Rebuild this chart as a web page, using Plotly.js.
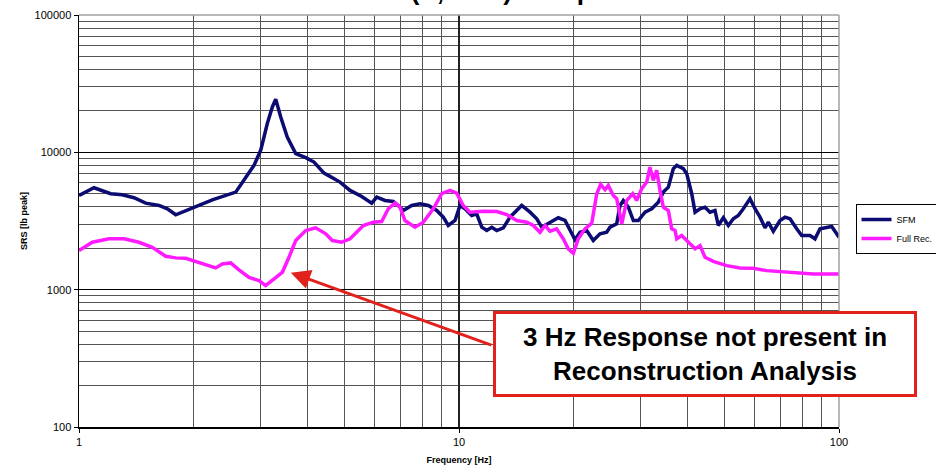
<!DOCTYPE html>
<html>
<head>
<meta charset="utf-8">
<script src="https://cdn.plot.ly/plotly-3.0.1.min.js"></script>
<style>
  html, body { margin: 0; padding: 0; background: #fff; }
  #chart { width: 936px; height: 466px; }
</style>
</head>
<body>
<div id="chart"></div>
<script>
// Shock response spectra, SFM vs full reconstruction
const sfmFreq = [1, 1.095, 1.212, 1.300, 1.395, 1.498, 1.624, 1.708, 1.797, 1.987, 2.243, 2.585, 2.746, 2.888, 3.007, 3.130, 3.227, 3.294, 3.395, 3.532, 3.718, 3.951, 4.153, 4.413,
  4.576, 4.862, 5.168, 5.546, 5.892, 6.074, 6.387, 6.716, 6.923, 7.135, 7.508, 7.897, 8.303, 8.737, 9.093, 9.371, 9.761, 10.06, 10.37, 10.80,
  11.13, 11.48, 11.83, 12.20, 12.57, 13.08, 13.62, 14.62, 15.38, 16.02, 16.51, 17.36, 18.25, 19.01, 19.60, 20.20, 20.82, 21.68, 22.56, 23.50,
  24.47, 24.97, 26.00, 26.53, 27.06, 27.90, 28.76, 29.64, 30.87, 32.15, 33.46, 34.49, 35.55, 36.64, 37.41, 38.94, 39.74, 40.97, 41.80, 43.08,
  44.40, 45.76, 47.17, 48.13, 49.61, 51.14, 52.71, 54.33, 56.00, 58.32, 60.11, 61.96, 63.88, 65.15, 67.16, 69.94, 72.10, 74.31, 77.39, 79.76,
  83.90, 86.47, 89.13, 92.82, 95.68, 100];
const sfmVal = [4853, 5524, 4995, 4911, 4670, 4265, 4104, 3882, 3510, 3949, 4514, 5130, 6600, 8038, 10342, 16200, 21410, 24370, 18100, 12930, 9784, 9146, 8497, 7062,
  6680, 6072, 5280, 4773, 4266, 4718, 4462, 4388, 4104, 3773, 4104, 4222, 4104, 3773, 3372, 2933, 3189, 4104, 3882, 3469,
  3570, 2849, 2696, 2849, 2696, 2821, 3372, 4104, 3666, 3282, 2849, 3099, 3338, 3189, 2696, 2306, 2620, 2696, 2279, 2551,
  2620, 2849, 3018, 4104, 4462, 3988, 3189, 3189, 3666, 3882, 4337, 5131, 5581, 7603, 8038, 7603, 6990, 4995, 3666, 3882,
  3988, 3666, 3773, 2933, 3338, 2933, 3282, 3469, 3882, 4592, 3882, 3372, 2821, 3099, 2664, 3189, 3372, 3282, 2774, 2479,
  2479, 2345, 2774, 2821, 2884, 2409];

const recFreq = [1, 1.084, 1.199, 1.313, 1.438, 1.559, 1.691, 1.797, 1.909, 2.111, 2.289, 2.383, 2.507, 2.636, 2.802, 2.976, 3.099, 3.261, 3.428, 3.569,
  3.718, 3.951, 4.197, 4.459, 4.641, 4.913, 5.168, 5.601, 5.949, 6.259, 6.515, 6.785, 6.993, 7.208, 7.659, 8.055, 8.557, 9.005, 9.470, 9.861,
  10.26, 10.69, 11.59, 12.57, 13.35, 14.19, 15.08, 15.69, 16.34, 16.84, 17.36, 18.07, 18.81, 19.39, 19.99, 20.60, 21.46, 22.35, 23.04, 23.60,
  24.23, 24.71, 25.47, 26.00, 26.53, 26.81, 27.63, 28.65, 29.35, 30.25, 31.19, 31.81, 32.45, 33.13, 33.80, 34.49, 35.55, 36.29, 37.03, 37.41,
  38.56, 39.74, 41.80, 43.08, 44.40, 46.69, 50.63, 54.89, 59.50, 64.52, 69.94, 77.39, 85.57, 100];
const recVal = [1926, 2215, 2345, 2345, 2215, 2036, 1751, 1704, 1692, 1556, 1440, 1540, 1566, 1392, 1229, 1163, 1070, 1197, 1338, 1721,
  2279, 2696, 2821, 2551, 2279, 2215, 2345, 2933, 3099, 3137, 3882, 4266, 3988, 3189, 2849, 3099, 3882, 4995, 5280, 5045,
  4104, 3666, 3729, 3710, 3527, 3189, 3099, 2933, 2620, 2933, 2664, 2774, 2345, 1982, 1841, 2345, 2774, 3048, 4995, 5841,
  5342, 5743, 4854, 4592, 3570, 3018, 4462, 4995, 4462, 5433, 6072, 7811, 6246, 7389, 5280, 3988, 3773, 2774, 2696, 2345,
  2479, 2279, 1982, 2095, 1721, 1609, 1497, 1440, 1431, 1376, 1353, 1324, 1302, 1302];

const seriesNames = ['SFM', 'Full Rec.'];
const xTickVals = [1, 10, 100];
const xTickText = ['1', '10', '100'];
const xMinorVals = [2, 3, 4, 5, 6, 7, 8, 9, 20, 30, 40, 50, 60, 70, 80, 90];
const yTickVals = [100, 1000, 10000, 100000];
const yTickText = ['100', '1000', '10000', '100000'];
const yMinorVals = [200, 300, 400, 500, 600, 700, 800, 900,
  2000, 3000, 4000, 5000, 6000, 7000, 8000, 9000,
  20000, 30000, 40000, 50000, 60000, 70000, 80000, 90000];

const titleText = 'SRS (X, Fwd) Comparison';
const xTitle = 'Frequency [Hz]';
const yTitle = 'SRS [lb peak]';
const calloutText = '3 Hz Response not present in<br>Reconstruction Analysis';

const NAVY = '#0b0b72';
const MAGENTA = '#ff1aff';
const RED = '#e3211c';
const FONT = 'Arial, "Liberation Sans", sans-serif';

const traces = [
  { x: sfmFreq, y: sfmVal, name: seriesNames[0], type: 'scatter', mode: 'lines',
    line: { color: NAVY, width: 3.5 } },
  { x: recFreq, y: recVal, name: seriesNames[1], type: 'scatter', mode: 'lines',
    line: { color: MAGENTA, width: 3.5 } }
];

const layout = {
  width: 936, height: 466,
  margin: { l: 79, r: 97, t: 15, b: 39, pad: 0, autoexpand: false },
  paper_bgcolor: '#fff', plot_bgcolor: '#fff',
  font: { family: FONT, color: '#000', size: 11 },
  // the chart title sits above the top edge of the page; only its descenders show
  title: {
    text: '<b>' + titleText + '</b>',
    font: { family: FONT, size: 26, color: '#000' },
    xref: 'container', yref: 'container',
    x: 0.374, xanchor: 'left', y: 1, yanchor: 'bottom',
    pad: { t: 0, b: 0, l: 0, r: 0 }
  },
  xaxis: {
    type: 'log', range: [0, 2], autorange: false,
    tickmode: 'array', tickvals: xTickVals, ticktext: xTickText,
    ticks: 'outside', ticklen: 4, tickwidth: 1, tickcolor: '#000',
    showline: true, linecolor: '#000', linewidth: 1.5,
    showgrid: true, gridcolor: '#222', gridwidth: 1.3,
    minor: { tickmode: 'array', tickvals: xMinorVals, showgrid: true, gridcolor: '#555', gridwidth: 1, ticks: '' },
    zeroline: false,
    tickfont: { family: FONT, size: 11, color: '#000' },
    title: { text: '<b>' + xTitle + '</b>', font: { family: FONT, size: 9, color: '#000' }, standoff: 10 }
  },
  yaxis: {
    type: 'log', range: [2, 5], autorange: false,
    tickmode: 'array', tickvals: yTickVals, ticktext: yTickText,
    ticks: 'outside', ticklen: 4, tickwidth: 1, tickcolor: '#000',
    showline: true, linecolor: '#000', linewidth: 1.5,
    showgrid: true, gridcolor: '#000', gridwidth: 1.2,
    minor: { tickmode: 'array', tickvals: yMinorVals, showgrid: true, gridcolor: '#555', gridwidth: 1, ticks: '' },
    zeroline: false,
    tickfont: { family: FONT, size: 11, color: '#000' },
    title: { text: '<b>' + yTitle + '</b>', font: { family: FONT, size: 9, color: '#000' }, standoff: 5 }
  },
  showlegend: true,
  legend: {
    xref: 'container', yref: 'container',
    x: 0.914, xanchor: 'left', y: 0.5622, yanchor: 'top',
    bgcolor: '#fff', bordercolor: '#000', borderwidth: 1,
    font: { family: FONT, size: 9, color: '#000' },
    itemwidth: 30, tracegroupgap: 0
  },
  shapes: [
    { type: 'line', xref: 'paper', yref: 'paper', x0: 0, x1: 1, y0: 1, y1: 1, line: { color: '#a0a0a0', width: 1.5 }, layer: 'above' },
    { type: 'line', xref: 'paper', yref: 'paper', x0: 1, x1: 1, y0: 0, y1: 1, line: { color: '#a0a0a0', width: 1.5 }, layer: 'above' }
  ],
  annotations: [
    { // arrow pointing at the reconstruction curve near 3.6 Hz
      xref: 'x', yref: 'y', x: Math.log10(3.61), y: Math.log10(1330),
      text: '', showarrow: true, arrowhead: 2, arrowsize: 1.3, arrowwidth: 3,
      arrowcolor: RED, ax: 202, ay: 73, standoff: 0
    },
    { // callout box
      xref: 'paper', yref: 'paper', x: 0.8237, y: 0.177, xanchor: 'center', yanchor: 'middle',
      text: '<b>' + calloutText + '</b>', showarrow: false, align: 'center',
      font: { family: FONT, size: 26, color: '#000' },
      bgcolor: '#fff', bordercolor: RED, borderwidth: 3, borderpad: 1,
      width: 416, height: 78
    }
  ]
};

Plotly.newPlot('chart', traces, layout, { displayModeBar: false, staticPlot: true });
</script>
</body>
</html>
